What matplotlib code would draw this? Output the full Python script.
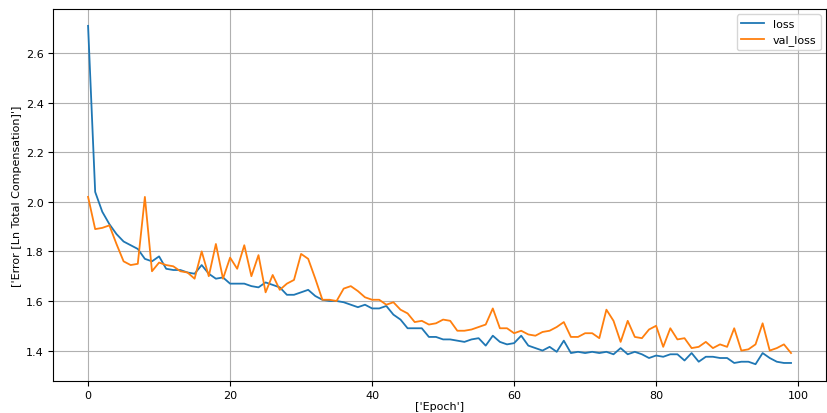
import numpy as np
import matplotlib.pyplot as plt

loss = [2.71, 2.04, 1.96, 1.91, 1.87, 1.84, 1.825, 1.81, 1.77, 1.76,
        1.78, 1.73, 1.725, 1.725, 1.715, 1.71, 1.745, 1.71, 1.69, 1.695,
        1.67, 1.67, 1.67, 1.66, 1.655, 1.675, 1.665, 1.655, 1.625, 1.625,
        1.635, 1.645, 1.62, 1.605, 1.60, 1.60, 1.595, 1.585, 1.575, 1.585,
        1.57, 1.57, 1.58, 1.545, 1.525, 1.49, 1.49, 1.49, 1.455, 1.455,
        1.445, 1.445, 1.44, 1.435, 1.445, 1.45, 1.42, 1.46, 1.435, 1.425,
        1.43, 1.46, 1.42, 1.41, 1.40, 1.415, 1.395, 1.44, 1.39, 1.395,
        1.39, 1.395, 1.39, 1.395, 1.385, 1.41, 1.385, 1.395, 1.385, 1.37,
        1.38, 1.375, 1.385, 1.385, 1.36, 1.39, 1.355, 1.375, 1.375, 1.37,
        1.37, 1.35, 1.355, 1.355, 1.345, 1.39, 1.37, 1.355, 1.35, 1.35]

val_loss = [2.02, 1.89, 1.895, 1.905, 1.83, 1.76, 1.745, 1.75, 2.02, 1.72,
            1.755, 1.745, 1.74, 1.72, 1.715, 1.69, 1.80, 1.70, 1.83, 1.69,
            1.775, 1.73, 1.825, 1.70, 1.785, 1.635, 1.705, 1.645, 1.67, 1.685,
            1.79, 1.77, 1.69, 1.605, 1.605, 1.60, 1.65, 1.66, 1.64, 1.615,
            1.605, 1.605, 1.585, 1.595, 1.565, 1.55, 1.515, 1.52, 1.505, 1.51,
            1.525, 1.52, 1.48, 1.48, 1.485, 1.495, 1.505, 1.57, 1.49, 1.49,
            1.47, 1.48, 1.465, 1.46, 1.475, 1.48, 1.495, 1.515, 1.455, 1.455,
            1.47, 1.47, 1.45, 1.565, 1.52, 1.435, 1.52, 1.455, 1.45, 1.485,
            1.50, 1.415, 1.49, 1.445, 1.45, 1.41, 1.415, 1.435, 1.41, 1.425,
            1.415, 1.49, 1.40, 1.405, 1.425, 1.51, 1.40, 1.41, 1.425, 1.39]

epochs = np.arange(len(loss))

plt.rcParams['font.size'] = 8

fig = plt.figure(figsize=(8.27, 4.14), dpi=100)
ax = fig.add_axes([0.064, 0.077, 0.935, 0.899])
ax.plot(epochs, loss, label='loss', linewidth=1.3)
ax.plot(epochs, val_loss, label='val_loss', linewidth=1.3)
ax.set_xlabel("['Epoch']", labelpad=0.5)
ax.set_ylabel("['Error [Ln Total Compensation]']", labelpad=3)
ax.tick_params(labelsize=8, pad=3)
ax.grid(True)
ax.legend(loc='upper right')

fig.savefig('out.png', dpi=100)
